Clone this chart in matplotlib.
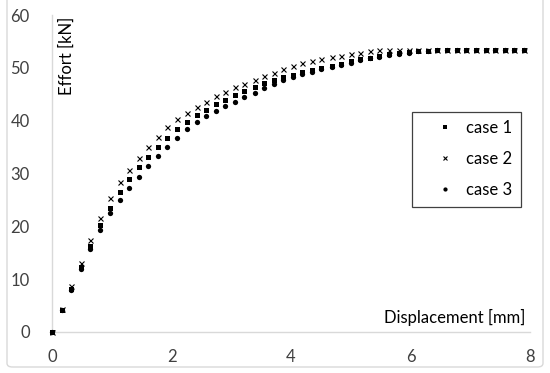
import matplotlib
matplotlib.use("Agg")
import matplotlib.pyplot as plt
from matplotlib.patches import FancyBboxPatch

plt.rcParams['font.family'] = ['Lato', 'DejaVu Sans']

# displacement [mm]
disp = [0.00, 0.16, 0.32, 0.48, 0.64, 0.81, 0.97, 1.13, 1.29, 1.45,
        1.61, 1.77, 1.93, 2.10, 2.26, 2.42, 2.58, 2.74, 2.90, 3.06,
        3.22, 3.39, 3.55, 3.71, 3.87, 4.03, 4.19, 4.35, 4.51, 4.68,
        4.84, 5.00, 5.16, 5.32, 5.48, 5.64, 5.80, 5.97, 6.13, 6.29,
        6.45, 6.61, 6.77, 6.93, 7.09, 7.26, 7.42, 7.58, 7.74, 7.90]

# effort [kN]
case1 = [0.0, 4.2, 8.1, 12.3, 16.2, 20.3, 23.5, 26.5, 28.9, 31.2,
         33.2, 35.1, 36.8, 38.4, 39.8, 41.0, 42.0, 43.1, 44.0, 44.9,
         45.7, 46.4, 47.1, 47.7, 48.2, 48.7, 49.2, 49.6, 50.0, 50.4,
         50.8, 51.2, 51.6, 51.9, 52.3, 52.6, 52.8, 53.0, 53.1, 53.2,
         53.3, 53.3, 53.4, 53.4, 53.4, 53.4, 53.4, 53.4, 53.4, 53.4]
case2 = [0.0, 4.3, 8.8, 13.1, 17.4, 21.6, 25.3, 28.3, 30.7, 32.9,
         35.1, 36.9, 38.8, 40.3, 41.5, 42.6, 43.6, 44.6, 45.5, 46.3,
         47.0, 47.7, 48.5, 49.1, 49.8, 50.4, 50.9, 51.3, 51.6, 52.0,
         52.3, 52.7, 52.9, 53.2, 53.3, 53.3, 53.3, 53.3, 53.4, 53.4,
         53.4, 53.4, 53.4, 53.4, 53.4, 53.4, 53.4, 53.4, 53.4, 53.4]
case3 = [0.0, 4.1, 7.9, 12.0, 15.8, 19.4, 22.5, 25.0, 27.2, 29.4,
         31.4, 33.3, 35.1, 36.8, 38.4, 39.7, 40.8, 41.9, 42.8, 43.6,
         44.5, 45.3, 46.2, 46.9, 47.7, 48.3, 48.8, 49.3, 49.8, 50.2,
         50.6, 51.0, 51.4, 51.8, 52.1, 52.4, 52.7, 52.9, 53.1, 53.2,
         53.3, 53.3, 53.4, 53.4, 53.4, 53.4, 53.4, 53.4, 53.4, 53.4]

fig = plt.figure(figsize=(5.5, 3.73), dpi=100)
ax = fig.add_axes([52/550, 1 - 332/373, 478/550, 317/373])

ax.plot(disp, case1, 's', color='black', ms=3.6, mew=0, label='case 1', clip_on=False)
ax.plot(disp, case2, 'x', color='black', ms=3.6, mew=0.8, label='case 2', clip_on=False)
ax.plot(disp, case3, 'o', color='black', ms=3.8, mew=0, label='case 3', clip_on=False)

ax.set_xlim(0, 8)
ax.set_ylim(0, 60)
ax.set_xticks([0, 2, 4, 6, 8])
ax.set_yticks(range(0, 61, 10))
ax.tick_params(length=0, labelsize=12, labelcolor='#404040')
ax.tick_params(axis='x', pad=12)
ax.tick_params(axis='y', pad=16)
for s in ['top', 'right']:
    ax.spines[s].set_visible(False)
for s in ['left', 'bottom']:
    ax.spines[s].set_color('#D9D9D9')
    ax.spines[s].set_linewidth(1)
    ax.spines[s].set_zorder(0)

ax.text(0.03, 0.995, 'Effort [kN]', transform=ax.transAxes, rotation=90,
        ha='center', va='top', fontsize=12, color='black')
ax.text(0.99, 0.045, 'Displacement [mm]', transform=ax.transAxes,
        ha='right', va='center', fontsize=12, color='black')

leg = ax.legend(loc='upper left', bbox_to_anchor=(412/550, 1 - 112/373),
                bbox_transform=fig.transFigure, fancybox=False,
                edgecolor='#404040', fontsize=12, handlelength=3.0,
                handletextpad=-0.25, labelspacing=0.9, borderpad=0.5,
                borderaxespad=0, framealpha=1, markerscale=0.8)
leg.get_frame().set_linewidth(0.9)

fig.patches.append(FancyBboxPatch((7/550, 6/373), 536/550, 375/373,
                                  boxstyle='round,pad=0,rounding_size=0.01',
                                  transform=fig.transFigure, fill=False,
                                  edgecolor='#D9D9D9', linewidth=1))

fig.savefig('out.png', dpi=100)
